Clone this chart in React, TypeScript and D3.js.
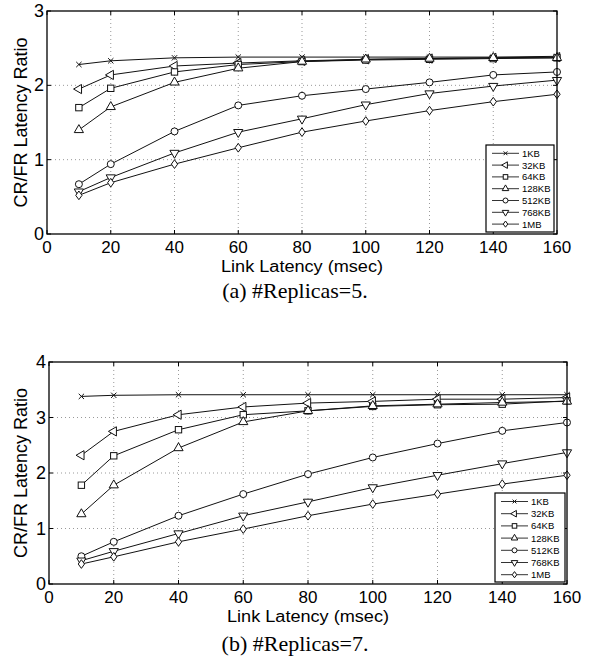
import React from 'react'
import * as d3 from 'd3'

// link latency (msec) on the x axis
const latency = [10, 20, 40, 60, 80, 100, 120, 140, 160]
const seriesNames = ['1KB', '32KB', '64KB', '128KB', '512KB', '768KB', '1MB']
const markerKinds = ['x', 'left', 'square', 'up', 'circle', 'down', 'diamond']
const xTicks = [0, 20, 40, 60, 80, 100, 120, 140, 160]

// (a) #Replicas=5
const r5_1KB = [2.28, 2.33, 2.37, 2.38, 2.38, 2.38, 2.38, 2.38, 2.39]
const r5_32KB = [1.95, 2.14, 2.26, 2.3, 2.33, 2.35, 2.36, 2.37, 2.38]
const r5_64KB = [1.7, 1.96, 2.18, 2.28, 2.32, 2.34, 2.35, 2.36, 2.37]
const r5_128KB = [1.4, 1.71, 2.04, 2.23, 2.32, 2.35, 2.36, 2.37, 2.37]
const r5_512KB = [0.67, 0.94, 1.38, 1.73, 1.86, 1.95, 2.04, 2.14, 2.18]
const r5_768KB = [0.57, 0.76, 1.09, 1.37, 1.55, 1.74, 1.89, 1.99, 2.07]
const r5_1MB = [0.52, 0.69, 0.94, 1.16, 1.37, 1.52, 1.66, 1.78, 1.88]

// (b) #Replicas=7
const r7_1KB = [3.38, 3.4, 3.41, 3.41, 3.41, 3.41, 3.41, 3.41, 3.41]
const r7_32KB = [2.32, 2.75, 3.05, 3.19, 3.26, 3.29, 3.33, 3.33, 3.36]
const r7_64KB = [1.78, 2.31, 2.78, 3.05, 3.12, 3.2, 3.23, 3.24, 3.3]
const r7_128KB = [1.26, 1.78, 2.45, 2.92, 3.12, 3.21, 3.24, 3.27, 3.29]
const r7_512KB = [0.5, 0.76, 1.23, 1.62, 1.98, 2.28, 2.53, 2.76, 2.91]
const r7_768KB = [0.42, 0.59, 0.91, 1.23, 1.48, 1.74, 1.96, 2.17, 2.37]
const r7_1MB = [0.36, 0.49, 0.76, 0.99, 1.23, 1.44, 1.62, 1.8, 1.96]

const replicas5 = [r5_1KB, r5_32KB, r5_64KB, r5_128KB, r5_512KB, r5_768KB, r5_1MB]
const replicas7 = [r7_1KB, r7_32KB, r7_64KB, r7_128KB, r7_512KB, r7_768KB, r7_1MB]

const sans = 'Liberation Sans, Arial, sans-serif'
const serif = 'Liberation Serif, Times New Roman, serif'

function Marker({kind, x, y, s}: {kind: string; x: number; y: number; s: number}) {
  const common = {fill: 'white', stroke: '#111', strokeWidth: 1}
  if (kind === 'x') {
    const h = s * 0.38
    return (
      <path
        d={`M${x - h},${y - h}L${x + h},${y + h}M${x - h},${y + h}L${x + h},${y - h}`}
        stroke="#111"
        strokeWidth={1}
      />
    )
  }
  if (kind === 'circle') return <circle cx={x} cy={y} r={s / 2} {...common} />
  if (kind === 'square') return <rect x={x - s / 2.2} y={y - s / 2.2} width={s / 1.1} height={s / 1.1} {...common} />
  if (kind === 'diamond') {
    const w = s * 0.45
    const h = s * 0.62
    return <path d={`M${x},${y - h}L${x + w},${y}L${x},${y + h}L${x - w},${y}Z`} {...common} />
  }
  // triangles
  const tri = d3.symbol().type(d3.symbolTriangle).size(s * s * 0.75)()
  const rot = kind === 'up' ? 0 : kind === 'down' ? 180 : -90
  return <path d={tri || ''} transform={`translate(${x},${y}) rotate(${rot})`} {...common} />
}

type Box = {left: number; right: number; top: number; bottom: number}

function Chart({data, yMax, box, legend, caption}: {
  data: number[][]
  yMax: number
  box: Box
  legend: {x: number; y: number; w: number; h: number; first: number; step: number}
  caption: {y: number; text: string}
}) {
  const x = d3.scaleLinear().domain([0, 160]).range([box.left, box.right])
  const y = d3.scaleLinear().domain([0, yMax]).range([box.bottom, box.top])
  const yTicks = d3.range(0, yMax + 1)
  const line = d3
    .line<number>()
    .x((_, i) => x(latency[i]))
    .y((d) => y(d))

  return (
    <g>
      {/* dotted grid */}
      {xTicks.slice(1, -1).map((t) => (
        <line key={'gx' + t} x1={x(t)} x2={x(t)} y1={box.top} y2={box.bottom} stroke="#999" strokeDasharray="1,3" />
      ))}
      {yTicks.slice(1, -1).map((t) => (
        <line key={'gy' + t} x1={box.left} x2={box.right} y1={y(t)} y2={y(t)} stroke="#999" strokeDasharray="1,3" />
      ))}
      {/* inner ticks */}
      {xTicks.map((t) => (
        <g key={'tx' + t}>
          <line x1={x(t)} x2={x(t)} y1={box.bottom} y2={box.bottom - 4} stroke="#000" />
          <line x1={x(t)} x2={x(t)} y1={box.top} y2={box.top + 4} stroke="#000" />
          <text x={x(t)} y={box.bottom + 19} textAnchor="middle" fontFamily={sans} fontSize={17}>
            {t}
          </text>
        </g>
      ))}
      {yTicks.map((t) => (
        <g key={'ty' + t}>
          <line x1={box.left} x2={box.left + 4} y1={y(t)} y2={y(t)} stroke="#000" />
          <line x1={box.right} x2={box.right - 4} y1={y(t)} y2={y(t)} stroke="#000" />
          <text x={box.left - 3} y={y(t) + 6} textAnchor="end" fontFamily={sans} fontSize={18}>
            {t}
          </text>
        </g>
      ))}
      {/* series */}
      {data.map((vals, si) => (
        <g key={seriesNames[si]}>
          <path d={line(vals) || ''} fill="none" stroke="#111" strokeWidth={1} />
          {vals.map((v, i) => (
            <Marker key={i} kind={markerKinds[si]} x={x(latency[i])} y={y(v)} s={7} />
          ))}
        </g>
      ))}
      <rect
        x={box.left}
        y={box.top}
        width={box.right - box.left}
        height={box.bottom - box.top}
        fill="none"
        stroke="#000"
        strokeWidth={1.3}
      />
      {/* legend */}
      <rect x={legend.x} y={legend.y} width={legend.w} height={legend.h} fill="white" stroke="#000" strokeWidth={1.2} />
      {seriesNames.map((name, i) => {
        const ly = legend.first + i * legend.step
        return (
          <g key={'lg' + name}>
            <line x1={legend.x + 6} x2={legend.x + 33} y1={ly} y2={ly} stroke="#333" />
            <Marker kind={markerKinds[i]} x={legend.x + 19.5} y={ly} s={5} />
            <text x={legend.x + 36} y={ly + 3.5} fontFamily={sans} fontSize={9.5}>
              {name}
            </text>
          </g>
        )
      })}
      {/* axis labels */}
      <text
        x={(box.left + box.right) / 2}
        y={box.bottom + 38}
        textAnchor="middle"
        fontFamily={sans}
        fontSize={16}
        textLength={162}
        lengthAdjust="spacingAndGlyphs"
      >
        Link Latency (msec)
      </text>
      <text
        transform={`translate(27,${(box.top + box.bottom) / 2}) rotate(-90)`}
        textAnchor="middle"
        fontFamily={sans}
        fontSize={18}
      >
        CR/FR Latency Ratio
      </text>
      <text x={295} y={caption.y} textAnchor="middle" fontFamily={serif} fontSize={22}>
        {caption.text}
      </text>
    </g>
  )
}

export default function App() {
  return (
    <svg width={596} height={664} style={{position: 'absolute', left: 0, top: 0, background: 'white'}}>
      <Chart
        data={replicas5}
        yMax={3}
        box={{left: 47, right: 557, top: 11, bottom: 234}}
        legend={{x: 486, y: 145, w: 68, h: 87, first: 153.3, step: 11.8}}
        caption={{y: 298, text: '(a) #Replicas=5.'}}
      />
      <Chart
        data={replicas7}
        yMax={4}
        box={{left: 49, right: 567, top: 362, bottom: 584}}
        legend={{x: 495, y: 493, w: 70, h: 89, first: 501.5, step: 12.2}}
        caption={{y: 651, text: '(b) #Replicas=7.'}}
      />
    </svg>
  )
}
